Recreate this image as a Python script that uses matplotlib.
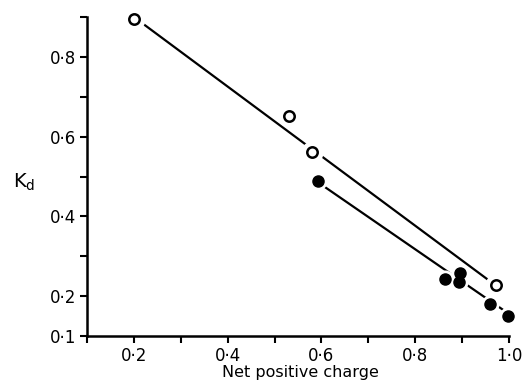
import matplotlib
matplotlib.use("Agg")
import matplotlib.pyplot as plt
import numpy as np

# Data
open_x = [0.20, 0.531, 0.579, 0.972]
open_y = [0.895, 0.652, 0.561, 0.228]
filled_x = [0.592, 0.863, 0.895, 0.893, 0.959, 0.998]
filled_y = [0.488, 0.243, 0.258, 0.236, 0.180, 0.151]

# Fitted (hand-drawn) lines
open_line_x = [0.20, 0.968]
open_line_y = [0.900, 0.230]
filled_line_x = [0.592, 0.998]
filled_line_y = [0.486, 0.157]

yticks = [0.1, 0.2, 0.3, 0.4, 0.5, 0.6, 0.7, 0.8, 0.9]
ytick_labels = ["0·1", "0·2", "", "0·4", "", "0·6", "", "0·8", ""]
xticks = [0.1, 0.2, 0.3, 0.4, 0.5, 0.6, 0.7, 0.8, 0.9, 1.0]
xtick_labels = ["", "0·2", "", "0·4", "", "0·6", "", "0·8", "", "1·0"]

plt.rcParams['font.family'] = ['DejaVu Sans']

fig = plt.figure(figsize=(5.29, 3.83), dpi=100)
ax = fig.add_axes([87/529, 1-336/383, (509-87)/529, (336-17)/383])

lw = 1.6
ax.plot(open_line_x, open_line_y, color='black', lw=lw, zorder=1, clip_on=False)
ax.plot(filled_line_x, filled_line_y, color='black', lw=lw, zorder=1, clip_on=False)

# white halos to create gaps in lines around points
ax.plot(open_x, open_y, 'o', ms=16, color='white', mec='none', zorder=2, clip_on=False)
ax.plot(filled_x, filled_y, 'o', ms=13, color='white', mec='none', zorder=2, clip_on=False)

ax.plot(open_x, open_y, 'o', ms=7.5, mfc='white', mec='black', mew=1.8, zorder=3, clip_on=False)
ax.plot(filled_x, filled_y, 'o', ms=8, mfc='black', mec='black', zorder=3, clip_on=False)

ax.set_xlim(0.1, 1.0)
ax.set_ylim(0.1, 0.9)
ax.set_xticks(xticks)
ax.set_xticklabels(xtick_labels, fontsize=12)
ax.set_yticks(yticks)
ax.set_yticklabels(ytick_labels, fontsize=12)

for s in ['top', 'right']:
    ax.spines[s].set_visible(False)
for s in ['left', 'bottom']:
    ax.spines[s].set_linewidth(1.8)

ax.tick_params(axis='both', direction='out', length=5, width=1.5, pad=3)

fig.text(300/529, 1-377/383, "Net positive charge", fontsize=11.5,
         ha='center', va='baseline')
fig.text(24/529, 1-182/383, r"K$_\mathregular{d}$", fontsize=14, ha='center', va='center')

fig.savefig("out.png", dpi=100, facecolor='white')
